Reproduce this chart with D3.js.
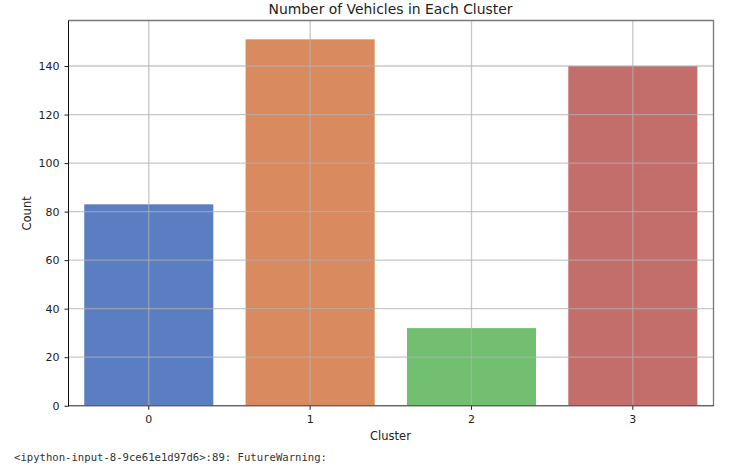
<!DOCTYPE html>
<html><head><meta charset="utf-8">
<script src="https://cdn.jsdelivr.net/npm/d3@7/dist/d3.min.js"></script>
<style>html,body{margin:0;padding:0;background:#fff}svg{display:block}</style>
</head><body>
<script>
const categories = ["0","1","2","3"];
const counts = [83,151,32,140];
const colors = ["#5b7dc1","#d98a5f","#72bf72","#c46e6c"];
const yTicks = [0,20,40,60,80,100,120,140];
const W=753,H=471,L=68.5,R=713.5,T=21,B=405.75;
const svg=d3.select("body").append("svg").attr("width",W).attr("height",H);
const x=d3.scaleBand().domain(categories).range([L-0.4,R]).paddingInner(0.2).paddingOuter(0.1);
const y=d3.scaleLinear().domain([0,158.55]).range([B,T]);
const font="'DejaVu Sans',sans-serif";
svg.append("g").selectAll("rect").data(categories).join("rect")
 .attr("x",d=>x(d)).attr("width",x.bandwidth())
 .attr("y",(d,i)=>y(counts[i])).attr("height",(d,i)=>y(0)-y(counts[i]))
 .attr("fill",(d,i)=>colors[i]);
const grid="#b0b0b0";
svg.append("g").selectAll("line").data(categories).join("line")
 .attr("x1",d=>x(d)+x.bandwidth()/2).attr("x2",d=>x(d)+x.bandwidth()/2)
 .attr("y1",T).attr("y2",B).attr("stroke",grid).attr("stroke-width",1.3).attr("stroke-opacity",0.7);
svg.append("g").selectAll("line").data(yTicks).join("line")
 .attr("x1",L).attr("x2",R).attr("y1",d=>y(d)).attr("y2",d=>y(d))
 .attr("stroke",grid).attr("stroke-width",1.3).attr("stroke-opacity",0.7);
const ax=svg.append("g").attr("transform",`translate(0,${B})`).call(d3.axisBottom(x).tickSize(4).tickPadding(5));
const ay=svg.append("g").attr("transform",`translate(${L},0)`).call(d3.axisLeft(y).tickValues(yTicks).tickSize(4).tickPadding(5));
[ax,ay].forEach(a=>{a.select(".domain").remove();a.selectAll("text").attr("font-family",font).attr("font-size",11).attr("fill","#222");a.selectAll("line").attr("stroke","#222");});
const edge=(x1,y1,x2,y2,c,w)=>svg.append("line").attr("x1",x1).attr("y1",y1).attr("x2",x2).attr("y2",y2).attr("stroke",c).attr("stroke-width",w);
edge(L,T-0.5,R+0.5,T-0.5,"#777",1.3);
edge(R,T-0.5,R,B,"#777",1.3);
edge(L-0.5,B,R+0.5,B,"#444",1.2);
edge(L,T-0.5,L,B+0.5,"#111",1);
svg.append("text").attr("x",(L+R)/2-0.5).attr("y",14).attr("text-anchor","middle").attr("font-family",font).attr("font-size",13.9).attr("fill","#222").text("Number of Vehicles in Each Cluster");
svg.append("text").attr("x",(L+R)/2-0.5).attr("y",440).attr("text-anchor","middle").attr("font-family",font).attr("font-size",11.5).attr("fill","#222").text("Cluster");
svg.append("text").attr("transform",`translate(31,${(T+B)/2}) rotate(-90)`).attr("text-anchor","middle").attr("font-family",font).attr("font-size",11.5).attr("fill","#222").text("Count");
svg.append("text").attr("x",14).attr("y",460.5).attr("font-family","'DejaVu Sans Mono',monospace").attr("font-size",10.62).attr("fill","#333").text("<ipython-input-8-9ce61e1d97d6>:89: FutureWarning:");
</script>
</body></html>
